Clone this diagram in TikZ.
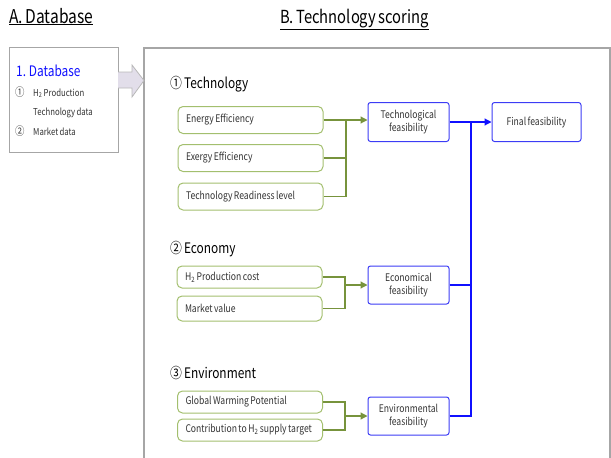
\documentclass[tikz,border=0pt]{standalone}
\usepackage{fontspec}
\setmainfont{Noto Sans CJK KR}[FakeStretch=0.82,WordSpace=0.75]
\usetikzlibrary{arrows.meta,calc}
\definecolor{gb}{HTML}{A3BF6E}
\definecolor{ga}{HTML}{77933C}
\definecolor{bb}{HTML}{3C3CF5}
\definecolor{bl}{HTML}{1010FF}
\definecolor{og}{HTML}{A6A6A6}
\definecolor{arrf}{HTML}{E2DEEA}
\definecolor{txt}{HTML}{333333}
\newcommand{\gtxt}[1]{\makebox[129pt][l]{#1}}
\begin{document}
\begin{tikzpicture}[x=1pt,y=-1pt,
  gbox/.style={draw=gb, line width=1pt, rounded corners=5pt, minimum width=145pt,
    minimum height=#1, inner sep=0pt,
    font=\fontsize{10.5}{12}\selectfont, text=txt},
  gbox/.default=27pt,
  bbox/.style={draw=bb, line width=1pt, rounded corners=2.5pt, minimum width=81pt,
    minimum height=39pt, align=center, inner sep=0pt,
    font=\fontsize{10.5}{12.5}\selectfont, text=txt},
  gline/.style={draw=ga, line width=1.2pt},
  garrow/.style={gline, -{Triangle[length=7pt,width=7pt]}},
  bline/.style={draw=bl, line width=1.2pt},
  barrow/.style={bline, -{Triangle[length=7pt,width=7pt]}},
  title/.style={anchor=base west, inner sep=0pt, font=\fontsize{19}{21}\selectfont},
  head/.style={anchor=base west, inner sep=0pt, font=\fontsize{14.5}{17}\selectfont},
  small/.style={anchor=base west, inner sep=0pt, font=\fontsize{9.5}{11}\selectfont, text=txt},
  num/.style={anchor=base west, inner sep=0pt, font=\fontsize{11.5}{12}\selectfont, text=txt}]
\useasboundingbox (0,0) rectangle (611,458);
\begin{scope}
\clip (0,0) rectangle (611,458);
% outer box (open at bottom)
\draw[og, line width=1.2pt] (144,470) -- (144,48) -- (610,48) -- (610,470);
\end{scope}

% titles
\node[title] (ta) at (9,23) {\underline{A. Database}};
\node[title, font=\fontsize{18}{20}\selectfont] (tb) at (280,23) {\underline{B. Technology scoring}};

% database box
\node[draw=og, line width=1pt, minimum width=109pt, minimum height=105pt, inner sep=0pt] (db) at (63.5,99.5) {};
\node[anchor=base west, inner sep=0pt, font=\fontsize{14.5}{17}\selectfont, text=bl] (dbt) at (16,76) {1. Database};
\node[num] (c1) at (15,96) {①};
\node[small] (h2) at (33,96) {H\textsubscript{2} Production};
\node[small] (td) at (33,115) {Technology data};
\node[num] (c2) at (15,135) {②};
\node[small] (md) at (33,135) {Market data};

% block arrow
\draw[og!80, fill=arrf, line width=0.8pt] (118,72) -- (132,72) -- (132,65) -- (144,80.5) -- (132,97) -- (132,88) -- (118,88);

% section headings
\node[head] (h1) at (170,88) {① Technology};
\node[head] (hh2) at (170,253) {② Economy};
\node[head] (h3) at (170,378) {③ Environment};

% technology
\node[gbox] (e1) at (250.5,120) {\gtxt{Energy Efficiency}};
\node[gbox] (e2) at (250.5,158) {\gtxt{Exergy Efficiency}};
\node[gbox] (e3) at (250.5,196.5) {\gtxt{Technology Readiness level}};
\node[bbox] (tf) at (408.5,122) {Technological\\feasibility};
\node[bbox, minimum width=89pt] (ff) at (536.5,122) {Final feasibility};
\coordinate (tj) at (346,120);
\draw[gline] (e2.east) -| (tj);
\draw[gline] (e3.east) -| (tj);
\draw[garrow] (e1.east) -- (e1.east -| tf.west);

% economy
\node[gbox=22pt] (p1) at (249.5,277) {\gtxt{H\textsubscript{2} Production cost}};
\node[gbox=25pt] (p2) at (249.5,308.5) {\gtxt{Market value}};
\node[bbox, minimum height=38pt] (ef) at (408.5,285) {Economical\\feasibility};
\coordinate (ej) at (345,285);
\draw[gline] (p1.east) -| (ej);
\draw[gline] (p2.east) -| (ej);
\draw[garrow] (ej) -- (ef.west);

% environment
\node[gbox=22pt] (g1) at (250,402) {\gtxt{Global Warming Potential}};
\node[gbox=22pt] (g2) at (250,430) {\gtxt{Contribution to H\textsubscript{2} supply target}};
\node[bbox, minimum height=38pt] (nf) at (408.5,416) {Environmental\\feasibility};
\coordinate (nj) at (345,416);
\draw[gline] (g1.east) -| (nj);
\draw[gline] (g2.east) -| (nj);
\draw[garrow] (nj) -- (nf.west);

% blue connectors
\coordinate (bj) at (471,122);
\draw[barrow] (tf.east) -- (ff.west);
\draw[bline] (ef.east) -| (bj);
\draw[bline] (nf.east) -| (bj);
\end{tikzpicture}
\end{document}
